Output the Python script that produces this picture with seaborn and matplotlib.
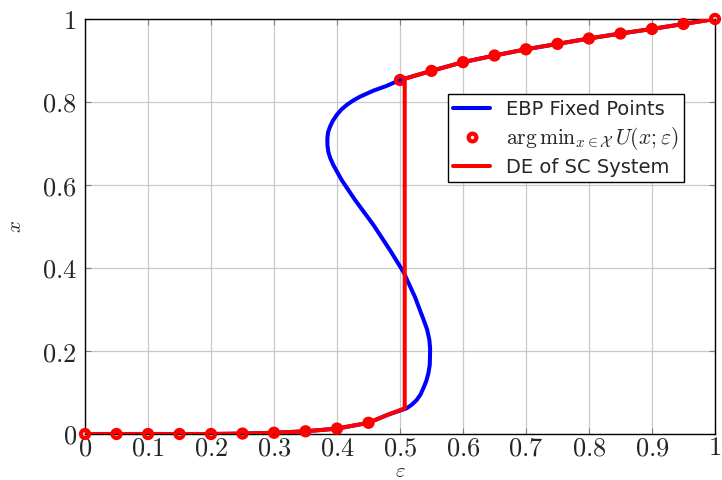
import numpy as np
import pandas as pd
import matplotlib
matplotlib.use("Agg")
import matplotlib.pyplot as plt
from matplotlib.lines import Line2D
from matplotlib.ticker import FuncFormatter
import seaborn as sns

# ---- data ----
# EBP fixed-point curve (parametric: epsilon, x)
ebp_eps = [0.0, 0.05, 0.1, 0.15, 0.2, 0.25, 0.3, 0.35, 0.4, 0.45, 0.48, 0.5106,
           0.519, 0.5265, 0.5325, 0.537, 0.5418, 0.545, 0.5472, 0.5476, 0.5478,
           0.5466, 0.5430, 0.537, 0.5238, 0.5053, 0.4841,
           0.4577, 0.4286, 0.4074, 0.3942, 0.3895, 0.3862, 0.3848, 0.3847, 0.3858,
           0.3889, 0.3935, 0.3995, 0.407, 0.4154, 0.4255,
           0.4365, 0.4577, 0.4784, 0.5, 0.55, 0.6, 0.65, 0.7, 0.75, 0.8, 0.85,
           0.9, 0.95, 1.0]
ebp_x = [0.0, 0.0, 0.0, 0.0, 0.0, 0.001, 0.003, 0.0065, 0.013, 0.027, 0.046, 0.062,
         0.071, 0.082, 0.095, 0.110, 0.128, 0.146, 0.166, 0.186, 0.206,
         0.227, 0.252, 0.277, 0.330, 0.391, 0.443,
         0.504, 0.564, 0.612, 0.648, 0.664, 0.680, 0.696, 0.7125, 0.727,
         0.7405, 0.755, 0.7687, 0.782, 0.7928, 0.8035,
         0.8128, 0.8273, 0.8386, 0.853, 0.875, 0.896, 0.912, 0.927, 0.940, 0.953, 0.965,
         0.976, 0.988, 1.0]

# argmin of potential, sampled every 0.05
min_eps = [0.0, 0.05, 0.1, 0.15, 0.2, 0.25, 0.3, 0.35, 0.4, 0.45, 0.5,
           0.55, 0.6, 0.65, 0.7, 0.75, 0.8, 0.85, 0.9, 0.95, 1.0]
min_x = [0.0, 0.0, 0.0, 0.0, 0.0, 0.001, 0.003, 0.0065, 0.013, 0.027, 0.853,
         0.875, 0.896, 0.912, 0.927, 0.940, 0.953, 0.965, 0.976, 0.988, 1.0]

# DE of spatially-coupled system
de_eps = [0.0, 0.05, 0.1, 0.15, 0.2, 0.25, 0.3, 0.35, 0.4, 0.45, 0.48, 0.5075,
          0.5075, 0.55, 0.6, 0.65, 0.7, 0.75, 0.8, 0.85, 0.9, 0.95, 1.0]
de_x = [0.0, 0.0, 0.0, 0.0, 0.0, 0.001, 0.003, 0.0065, 0.013, 0.027, 0.046, 0.062,
        0.856, 0.875, 0.896, 0.912, 0.927, 0.940, 0.953, 0.965, 0.976, 0.988, 1.0]

x_ticks = [0, 0.1, 0.2, 0.3, 0.4, 0.5, 0.6, 0.7, 0.8, 0.9, 1]
y_ticks = [0, 0.2, 0.4, 0.6, 0.8, 1]

# ---- style ----
sns.set_theme(style="white")
plt.rcParams["font.family"] = ["DejaVu Sans"]
plt.rcParams["mathtext.fontset"] = "cm"

fig = plt.figure(figsize=(7.22, 4.8), dpi=100)
ax = fig.add_axes([85 / 722, 46 / 480, 630 / 722, 415 / 480])

ebp_df = pd.DataFrame({"eps": ebp_eps, "x": ebp_x})
de_df = pd.DataFrame({"eps": de_eps, "x": de_x})
min_df = pd.DataFrame({"eps": min_eps, "x": min_x})

sns.lineplot(data=ebp_df, x="eps", y="x", sort=False, estimator=None,
             color="#0000ff", linewidth=2.9, ax=ax, zorder=3,
             solid_joinstyle="round", solid_capstyle="round")
sns.lineplot(data=de_df, x="eps", y="x", sort=False, estimator=None,
             color="#ff0000", linewidth=2.9, ax=ax, zorder=4,
             solid_joinstyle="round")
sns.scatterplot(data=min_df, x="eps", y="x", marker="o", s=34,
                facecolors="none", edgecolors="#ff0000", linewidths=3.0,
                ax=ax, zorder=5, clip_on=False)

ax.set_xlim(0, 1)
ax.set_ylim(0, 1)
ax.set_xticks(x_ticks)
ax.set_yticks(y_ticks)
fmt = FuncFormatter(lambda v, p: r"$%g$" % round(v, 2))
ax.xaxis.set_major_formatter(fmt)
ax.yaxis.set_major_formatter(fmt)
ax.tick_params(axis="both", which="major", labelsize=19, direction="in",
               length=4, width=0.8, color="#808080", top=True, right=True,
               bottom=True, left=True)
ax.tick_params(axis="x", pad=1)
ax.tick_params(axis="y", pad=6)

ax.grid(True, color="#c8c8c8", linewidth=0.9)
ax.set_axisbelow(True)
for s in ax.spines.values():
    s.set_color("black")
    s.set_linewidth(1.0)
    s.set_visible(True)

ax.set_xlabel(r"$\varepsilon$", fontsize=15, labelpad=0)
ax.set_ylabel(r"$x$", fontsize=15, labelpad=12)

handles = [
    Line2D([], [], color="#0000ff", linewidth=2.9),
    Line2D([], [], color="#ff0000", linestyle="none", marker="o",
           markersize=5.6, markerfacecolor="none", markeredgewidth=3.0),
    Line2D([], [], color="#ff0000", linewidth=2.9),
]
labels = ["EBP Fixed Points",
          r"$\mathrm{arg}\,\mathrm{min}_{x\in\mathcal{X}}\,U(x;\varepsilon)$",
          "DE of SC System"]
leg = ax.legend(handles, labels, loc="upper right",
                bbox_to_anchor=(0.951, 0.819), fontsize=14,
                frameon=True, fancybox=False, framealpha=1,
                edgecolor="black", handlelength=1.9, handletextpad=0.8,
                borderpad=0.3, labelspacing=0.3, borderaxespad=0)
leg.get_frame().set_linewidth(1.0)
leg.get_texts()[1].set_fontsize(15.5)
leg.set_zorder(10)

fig.savefig("out.png", dpi=100)
